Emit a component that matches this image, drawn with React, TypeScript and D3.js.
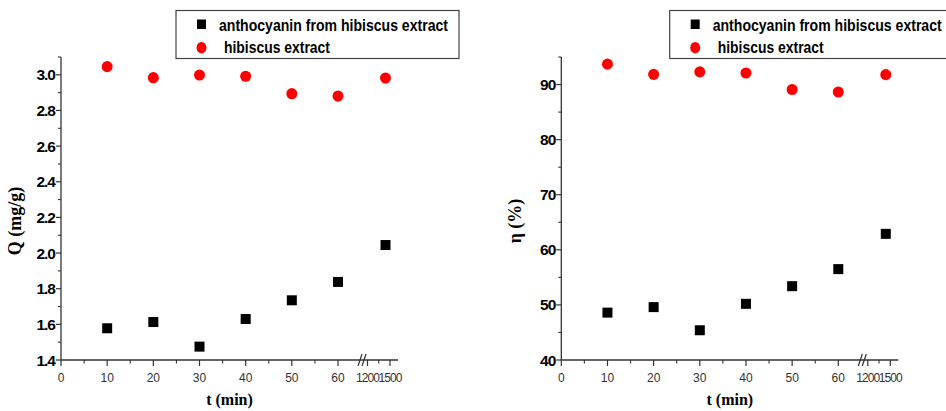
import * as d3 from 'd3';

// Sampling times (min); the last point sits after the axis break
const times = [10, 20, 30, 40, 50, 60, 1440];

// Q (mg/g)
const qAnthocyanin = [1.578, 1.613, 1.475, 1.63, 1.735, 1.838, 2.045];
const qHibiscus = [3.046, 2.984, 2.999, 2.992, 2.894, 2.881, 2.982];

// eta (%)
const etaAnthocyanin = [48.6, 49.6, 45.4, 50.2, 53.4, 56.5, 62.9];
const etaHibiscus = [93.7, 91.85, 92.3, 92.1, 89.1, 88.65, 91.8];

const xTicksMain = [0, 10, 20, 30, 40, 50, 60];
const xMinorMain = [5, 15, 25, 35, 45, 55];
const xTicksBroken = [1200, 1500];
const xMinorBroken = [1350];

const legendLabels = ['anthocyanin from hibiscus extract', 'hibiscus extract'];

const AXIS = '#333';
const RED = '#ff0000';
const TOP = 57;
const BOTTOM = 360;

interface PanelProps {
  x0: number;
  legendX: number;
  yDomain: [number, number];
  yMajor: number[];
  yMinor: number[];
  yFormat: (v: number) => string;
  yLabel: string;
  anth: number[];
  hib: number[];
}

function Panel({ x0, legendX, yDomain, yMajor, yMinor, yFormat, yLabel, anth, hib }: PanelProps) {
  const y = d3.scaleLinear().domain(yDomain).range([BOTTOM, TOP]);
  const xMain = d3.scaleLinear().domain([0, 60]).range([x0, x0 + 277]);
  const xBroken = d3.scaleLinear().domain([1200, 1500]).range([x0 + 306.5, x0 + 329]);
  const x = (t: number) => (t <= 65 ? xMain(t) : xBroken(t));
  const xEnd = x0 + 337;
  const brk = x0 + 298;

  return (
    <g>
      {/* y axis */}
      <line x1={x0} x2={x0} y1={TOP} y2={BOTTOM} stroke={AXIS} strokeWidth={1.3} />
      {yMajor.map((v) => (
        <g key={'ym' + v}>
          <line x1={x0 - 5} x2={x0} y1={y(v)} y2={y(v)} stroke={AXIS} strokeWidth={1.2} />
          <text
            x={x0 - 6}
            y={y(v)}
            dy="0.36em"
            textAnchor="end"
            fontFamily="Arial, 'Liberation Sans', sans-serif"
            fontWeight="bold"
            fontSize={15.5}
            letterSpacing={-1}
            fill="#000"
          >
            {yFormat(v)}
          </text>
        </g>
      ))}
      {yMinor.map((v) => (
        <line key={'yn' + v} x1={x0 - 3} x2={x0} y1={y(v)} y2={y(v)} stroke={AXIS} strokeWidth={1.1} />
      ))}
      <text
        transform={`translate(${x0 - 40},221) rotate(-90)`}
        textAnchor="middle"
        fontFamily="'Times New Roman', 'Liberation Serif', serif"
        fontWeight="bold"
        fontSize={18}
        fill="#000"
      >
        {yLabel}
      </text>

      {/* x axis with break */}
      <line x1={x0} x2={xEnd} y1={BOTTOM} y2={BOTTOM} stroke={AXIS} strokeWidth={1.3} />
      <line x1={brk - 1} x2={brk + 3} y1={BOTTOM + 6} y2={BOTTOM - 6} stroke={AXIS} strokeWidth={1.2} />
      <line x1={brk + 3} x2={brk + 7} y1={BOTTOM + 6} y2={BOTTOM - 6} stroke={AXIS} strokeWidth={1.2} />
      {xTicksMain.map((t) => (
        <g key={'xm' + t}>
          <line x1={xMain(t)} x2={xMain(t)} y1={BOTTOM} y2={BOTTOM + 6} stroke={AXIS} strokeWidth={1.2} />
          <text
            x={xMain(t)}
            y={381.5}
            textAnchor="middle"
            fontFamily="Arial, 'Liberation Sans', sans-serif"
            fontSize={12}
            fill="#333"
          >
            {t}
          </text>
        </g>
      ))}
      {xMinorMain.map((t) => (
        <line key={'xn' + t} x1={xMain(t)} x2={xMain(t)} y1={BOTTOM} y2={BOTTOM + 3.5} stroke={AXIS} strokeWidth={1.1} />
      ))}
      {xTicksBroken.map((t) => (
        <g key={'xb' + t}>
          <line x1={xBroken(t)} x2={xBroken(t)} y1={BOTTOM} y2={BOTTOM + 6} stroke={AXIS} strokeWidth={1.2} />
          <text
            x={xBroken(t)}
            y={381.5}
            textAnchor="middle"
            fontFamily="Arial, 'Liberation Sans', sans-serif"
            fontSize={12}
            letterSpacing={-0.9}
            fill="#333"
          >
            {t}
          </text>
        </g>
      ))}
      {xMinorBroken.map((t) => (
        <line key={'xbn' + t} x1={xBroken(t)} x2={xBroken(t)} y1={BOTTOM} y2={BOTTOM + 3.5} stroke={AXIS} strokeWidth={1.1} />
      ))}
      <text
        x={(x0 + xEnd) / 2}
        y={405}
        textAnchor="middle"
        fontFamily="'Times New Roman', 'Liberation Serif', serif"
        fontWeight="bold"
        fontSize={16}
        fill="#000"
      >
        t (min)
      </text>

      {/* data */}
      {times.map((t, i) => (
        <ellipse key={'h' + t} cx={x(t)} cy={y(hib[i])} rx={5.5} ry={5.6} fill={RED} />
      ))}
      {times.map((t, i) => (
        <rect key={'a' + t} x={x(t) - 5} y={y(anth[i]) - 5} width={10} height={10} fill="#000" />
      ))}

      {/* legend */}
      <rect x={legendX} y={10.5} width={283} height={48} fill="#fff" stroke="#444" strokeWidth={1.2} />
      <rect x={legendX + 21} y={19.5} width={9} height={9.5} fill="#000" />
      <ellipse cx={legendX + 25.5} cy={47.7} rx={5} ry={5.8} fill={RED} />
      <text
        x={legendX + 43}
        y={30.5}
        fontFamily="Arial, 'Liberation Sans', sans-serif"
        fontWeight="bold"
        fontSize={17}
        textLength={229}
        lengthAdjust="spacingAndGlyphs"
        fill="#000"
      >
        {legendLabels[0]}
      </text>
      <text
        x={legendX + 48}
        y={52.7}
        fontFamily="Arial, 'Liberation Sans', sans-serif"
        fontWeight="bold"
        fontSize={17}
        textLength={106}
        lengthAdjust="spacingAndGlyphs"
        fill="#000"
      >
        {legendLabels[1]}
      </text>
    </g>
  );
}

export default function App() {
  const qMajor = d3.range(14, 31, 2).map((v) => v / 10);
  const qMinor = d3.range(15, 32, 2).map((v) => v / 10);
  const etaMajor = d3.range(40, 91, 10);
  const etaMinor = d3.range(45, 96, 10);

  return (
    <svg
      width={946}
      height={411}
      style={{ position: 'absolute', left: 0, top: 0, background: '#fff' }}
    >
      <rect width={946} height={411} fill="#fff" />
      <Panel
        x0={61}
        legendX={176}
        yDomain={[1.4, 3.1]}
        yMajor={qMajor}
        yMinor={qMinor}
        yFormat={(v) => v.toFixed(1)}
        yLabel="Q (mg/g)"
        anth={qAnthocyanin}
        hib={qHibiscus}
      />
      <Panel
        x0={561.3}
        legendX={669.7}
        yDomain={[40, 95]}
        yMajor={etaMajor}
        yMinor={etaMinor}
        yFormat={(v) => String(v)}
        yLabel="η (%)"
        anth={etaAnthocyanin}
        hib={etaHibiscus}
      />
    </svg>
  );
}
